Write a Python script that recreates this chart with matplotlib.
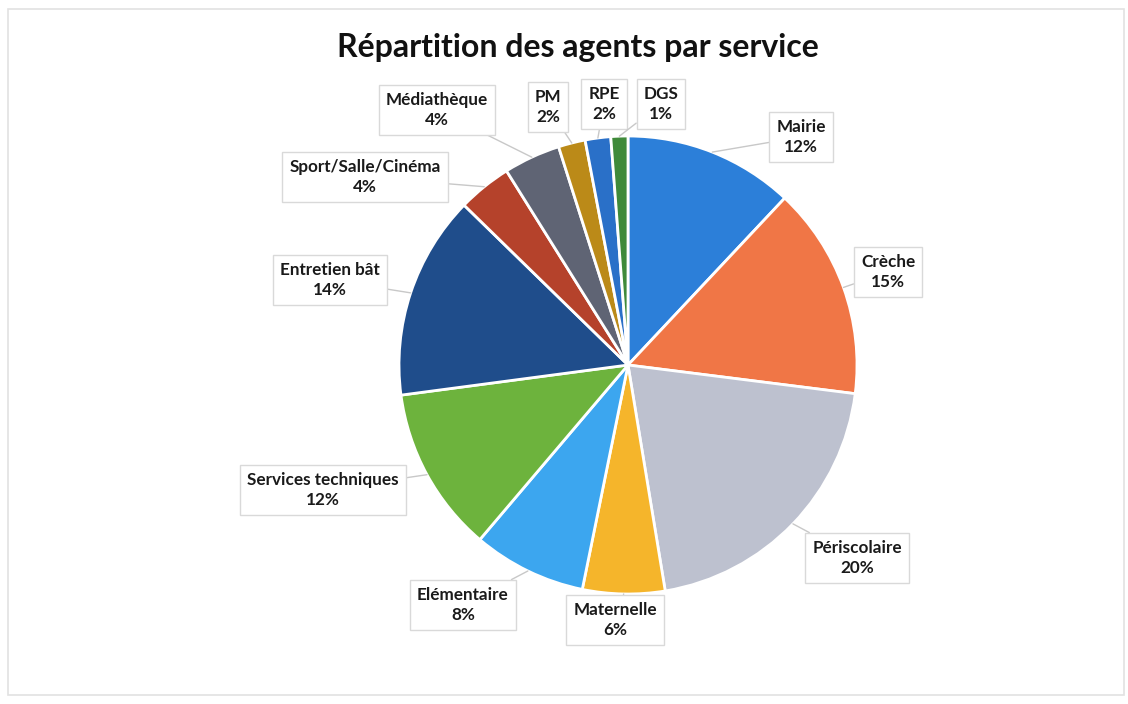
import numpy as np
import matplotlib
matplotlib.use("Agg")
import matplotlib.pyplot as plt
from matplotlib.patches import Rectangle

services = ["Mairie", "Crèche", "Périscolaire", "Maternelle", "Elémentaire",
            "Services techniques", "Entretien bât", "Sport/Salle/Cinéma",
            "Médiathèque", "PM", "RPE", "DGS"]
shares = [12.0, 15.0, 20.4, 5.8, 8.0, 11.7, 14.4, 3.8, 4.0, 1.9, 1.8, 1.2]
colors = ["#2c7fd9", "#f07646", "#bdc1cf", "#f5b52b", "#3ca6ef", "#6db33d",
          "#1f4d8b", "#b5422b", "#5f6474", "#bb8a18", "#2a70c8", "#3f8a3a"]

# label box centres, in picture pixels (x, y from top)
label_pos = [(801, 137), (888, 272), (857, 558), (615, 620), (463, 605),
             (323, 490), (330, 280), (365, 177), (437, 110), (548, 107),
             (604, 104), (661, 104)]

W, H = 1128, 704
fig = plt.figure(figsize=(W / 100, H / 100), dpi=100)
ax = fig.add_axes([0, 0, 1, 1])
font = ["Lato", "DejaVu Sans"]

cx, cy, r = 628, H - 365, 229
wedges, _ = ax.pie(shares, colors=colors, startangle=90, counterclock=False,
                   center=(cx, cy), radius=r, frame=True,
                   wedgeprops=dict(edgecolor="white", linewidth=2))

for w, name, val, (lx, ly) in zip(wedges, services, shares, label_pos):
    mid = np.deg2rad((w.theta1 + w.theta2) / 2)
    px, py = cx + r * np.cos(mid), cy + r * np.sin(mid)
    ax.annotate(f"{name}\n{round(val)}%", xy=(px, py), xytext=(lx, H - ly),
                ha="center", va="center", fontsize=12.3, fontweight="bold",
                family=font, color="#1a1a1a", linespacing=1.32,
                bbox=dict(boxstyle="square,pad=0.4", fc="white", ec="#d9d9d9", lw=1),
                arrowprops=dict(arrowstyle="-", color="#c8c8c8", lw=1,
                                shrinkA=0, shrinkB=0))

ax.add_patch(Rectangle((8, 9), W - 12, H - 18, fill=False, ec="#e2e2e2", lw=1.2))
ax.text(578, H - 48, "Répartition des agents par service", ha="center",
        va="center", fontsize=23, fontweight="bold", family=font, color="#111111")

ax.set_xlim(0, W)
ax.set_ylim(0, H)
ax.set_aspect("equal")
ax.axis("off")

fig.savefig("out.png", dpi=100, facecolor="white")
